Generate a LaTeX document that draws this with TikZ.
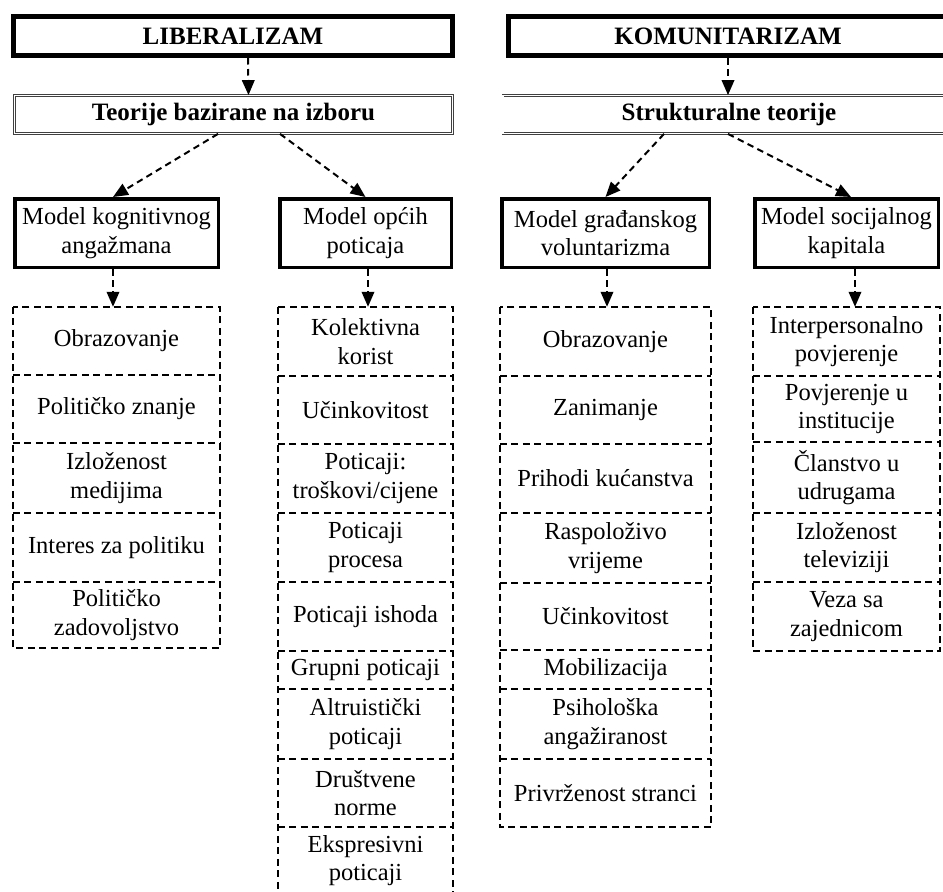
\documentclass[tikz,border=0pt]{standalone}
\usepackage{fontspec}
\setmainfont{Liberation Serif}
\usetikzlibrary{arrows.meta}
\newcommand{\boxfont}{\fontsize{24.5}{28.5}\selectfont}
\tikzset{headbox/.style = {draw, line width = 5pt, inner sep = 0, font = \fontsize{25}{28}\selectfont\bfseries}}
\tikzset{theorybox/.style = {draw = black!75, double, double distance = 1.3pt, line width = 0.8pt, inner sep = 0, font = \fontsize{25}{28}\selectfont\bfseries}}
\tikzset{modelbox/.style = {draw, line width = 3.5pt, inner sep = 0, align = center, minimum height = 68.5, font = \boxfont}}
\tikzset{cell/.style = {inner sep = 0, align = center, font = \boxfont}}
\tikzset{cellline/.style = {line width = 2pt, dash pattern = on 7pt off 4.5pt}}
\tikzset{flow/.style = {line width = 2pt, dash pattern = on 6.5pt off 4.5pt, -{Triangle[length = 15pt, width = 12.5pt]}}}

\begin{document}
\begin{tikzpicture}[x = 1pt, y = -1pt]
    \clip (0, 0) rectangle (943, 892);

    % top level
    \node [headbox, minimum width = 439, minimum height = 39] (lib) at (233, 36) {LIBERALIZAM};
    \node [headbox, minimum width = 439, minimum height = 39] (kom) at (728, 36) {KOMUNITARIZAM};
    \node [theorybox, minimum width = 438, minimum height = 38] (teo) at (233.5, 114.5) {Teorije bazirane na izboru};
    \node [theorybox, minimum width = 452, minimum height = 38] (str) at (729, 114.5) {Strukturalne teorije};

    % models
    \node [modelbox, minimum width = 203.5] (mkog) at (116.5, 233) {Model kognitivnog\\angažmana};
    \node [modelbox, minimum width = 171.5] (mop) at (365.5, 233) {Model općih\\poticaja};
    \node [modelbox, minimum width = 207.5] (mgr) at (605.5, 233) {Model građanskog\\voluntarizma};
    \node [modelbox, minimum width = 183.5] (msoc) at (846.5, 233) {Model socijalnog\\kapitala};

    % first column
    \node [cell, minimum width = 207, minimum height = 68] (c1a) at (116.5, 341) {Obrazovanje};
    \node [cell, minimum width = 207, minimum height = 68] (c1b) at (116.5, 409) {Političko znanje};
    \node [cell, minimum width = 207, minimum height = 70] (c1c) at (116.5, 478) {Izloženost\\medijima};
    \node [cell, minimum width = 207, minimum height = 69] (c1d) at (116.5, 547.5) {Interes za politiku};
    \node [cell, minimum width = 207, minimum height = 66] (c1e) at (116.5, 615) {Političko\\zadovoljstvo};

    % second column
    \node [cell, minimum width = 175, minimum height = 69] (c2a) at (365.5, 341.5) {Kolektivna\\korist};
    \node [cell, minimum width = 175, minimum height = 68] (c2b) at (365.5, 410) {Učinkovitost};
    \node [cell, minimum width = 175, minimum height = 69] (c2c) at (365.5, 478.5) {Poticaji:\\troškovi/cijene};
    \node [cell, minimum width = 175, minimum height = 69] (c2d) at (365.5, 547.5) {Poticaji\\procesa};
    \node [cell, minimum width = 175, minimum height = 69] (c2e) at (365.5, 616.5) {Poticaji ishoda};
    \node [cell, minimum width = 175, minimum height = 38] (c2f) at (365.5, 670) {Grupni poticaji};
    \node [cell, minimum width = 175, minimum height = 70] (c2g) at (365.5, 724) {Altruistički\\poticaji};
    \node [cell, minimum width = 175, minimum height = 68] (c2h) at (365.5, 793) {Društvene\\norme};
    \node [cell, minimum width = 175, minimum height = 67] (c2i) at (365.5, 860.5) {Ekspresivni\\poticaji};

    % third column
    \node [cell, minimum width = 211, minimum height = 69] (c3a) at (605.5, 341.5) {Obrazovanje};
    \node [cell, minimum width = 211, minimum height = 68] (c3b) at (605.5, 410) {Zanimanje};
    \node [cell, minimum width = 211, minimum height = 69] (c3c) at (605.5, 478.5) {Prihodi kućanstva};
    \node [cell, minimum width = 211, minimum height = 70] (c3d) at (605.5, 548) {Raspoloživo\\vrijeme};
    \node [cell, minimum width = 211, minimum height = 67] (c3e) at (605.5, 616.5) {Učinkovitost};
    \node [cell, minimum width = 211, minimum height = 39] (c3f) at (605.5, 669.5) {Mobilizacija};
    \node [cell, minimum width = 211, minimum height = 70] (c3g) at (605.5, 724) {Psihološka\\angažiranost};
    \node [cell, minimum width = 211, minimum height = 68] (c3h) at (605.5, 793) {Privrženost stranci};

    % fourth column
    \node [cell, minimum width = 187, minimum height = 69] (c4a) at (846.5, 341.5) {Interpersonalno\\povjerenje};
    \node [cell, minimum width = 187, minimum height = 66] (c4b) at (846.5, 409) {Povjerenje u\\institucije};
    \node [cell, minimum width = 187, minimum height = 71] (c4c) at (846.5, 477.5) {Članstvo u\\udrugama};
    \node [cell, minimum width = 187, minimum height = 69] (c4d) at (846.5, 547.5) {Izloženost\\televiziji};
    \node [cell, minimum width = 187, minimum height = 69] (c4e) at (846.5, 616.5) {Veza sa\\zajednicom};

    % dashed frames
    \draw [cellline] (c1a.north west) rectangle (c1e.south east);
    \draw [cellline] (c2a.north west) rectangle (c2i.south east);
    \draw [cellline] (c3a.north west) rectangle (c3h.south east);
    \draw [cellline] (c4a.north west) rectangle (c4e.south east);
    \foreach \c in {c1a, c1b, c1c, c1d, c2a, c2b, c2c, c2d, c2e, c2f, c2g, c2h, c3a, c3b, c3c, c3d, c3e, c3f, c3g, c4a, c4b, c4c, c4d}
      \draw [cellline] (\c.south west) -- (\c.south east);

    % arrows
    \draw [flow] ([xshift = 15]lib.south) -- ([xshift = 15]teo.north);
    \draw [flow] (kom.south) -- ([xshift = -1]str.north);
    \draw [flow] ([xshift = -15.5]teo.south) -- ([xshift = -3.5]mkog.north);
    \draw [flow] ([xshift = 46.5]teo.south) -- (mop.north);
    \draw [flow] ([xshift = -65]str.south) -- (mgr.north);
    \draw [flow] ([xshift = -1]str.south) -- ([xshift = 4.5]msoc.north);
    \draw [flow] ([xshift = -3.5]mkog.south) -- ([xshift = -3.5]c1a.north);
    \draw [flow] ([xshift = 2.5]mop.south) -- ([xshift = 2.5]c2a.north);
    \draw [flow] ([xshift = 1.5]mgr.south) -- ([xshift = 1.5]c3a.north);
    \draw [flow] ([xshift = 8.5]msoc.south) -- ([xshift = 8.5]c4a.north);
\end{tikzpicture}
\end{document}
